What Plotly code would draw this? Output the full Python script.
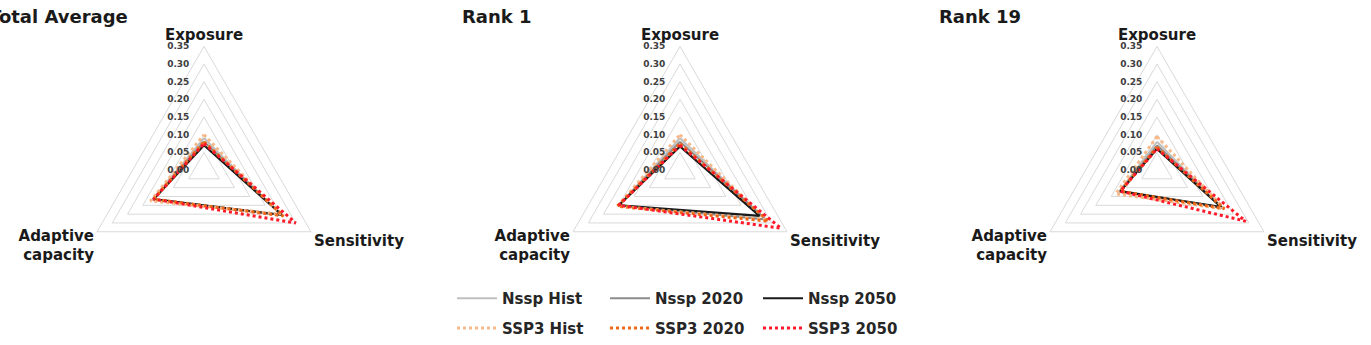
import plotly.graph_objects as go

axes_labels = ["Exposure", "Sensitivity", "Adaptive<br>capacity"]
panel_titles = ["Total Average", "Rank 1", "Rank 19"]
series_names = ["Nssp Hist", "Nssp 2020", "Nssp 2050", "SSP3 Hist", "SSP3 2020", "SSP3 2050"]

# values per panel: [Exposure, Sensitivity, Adaptive capacity]
total_average = {
    "Nssp Hist": [0.090, 0.250, 0.170],
    "Nssp 2020": [0.080, 0.255, 0.165],
    "Nssp 2050": [0.070, 0.255, 0.165],
    "SSP3 Hist": [0.100, 0.250, 0.175],
    "SSP3 2020": [0.080, 0.260, 0.165],
    "SSP3 2050": [0.075, 0.300, 0.165],
}
rank_1 = {
    "Nssp Hist": [0.090, 0.280, 0.200],
    "Nssp 2020": [0.080, 0.280, 0.200],
    "Nssp 2050": [0.067, 0.260, 0.200],
    "SSP3 Hist": [0.100, 0.280, 0.205],
    "SSP3 2020": [0.075, 0.290, 0.205],
    "SSP3 2050": [0.070, 0.330, 0.200],
}
rank_19 = {
    "Nssp Hist": [0.080, 0.210, 0.125],
    "Nssp 2020": [0.070, 0.215, 0.120],
    "Nssp 2050": [0.060, 0.210, 0.120],
    "SSP3 Hist": [0.095, 0.220, 0.135],
    "SSP3 2020": [0.065, 0.220, 0.120],
    "SSP3 2050": [0.060, 0.290, 0.120],
}
panels = [total_average, rank_1, rank_19]

styles = {
    "Nssp Hist": dict(color="#BFBFBF", width=2, dash="solid"),
    "Nssp 2020": dict(color="#8C8C8C", width=2, dash="solid"),
    "Nssp 2050": dict(color="#1A1A1A", width=2.2, dash="solid"),
    "SSP3 Hist": dict(color="#F8B98A", width=3, dash="dot"),
    "SSP3 2020": dict(color="#EE6A1A", width=3, dash="dot"),
    "SSP3 2050": dict(color="#FF1A2A", width=3, dash="dot"),
}

W, H = 1371, 345
centers_x = [204, 680, 1157]
center_y = 172
R = 125
FONT = "DejaVu Sans"

fig = go.Figure()
for pi, data in enumerate(panels):
    pid = "polar" if pi == 0 else f"polar{pi+1}"
    for name in series_names:
        vals = data[name]
        fig.add_trace(go.Scatterpolar(
            r=vals + vals[:1],
            theta=axes_labels + axes_labels[:1],
            mode="lines",
            name=name,
            line=styles[name],
            subplot=pid,
            showlegend=(pi == 0),
            legend="legend" if name.startswith("Nssp") else "legend2",
        ))

layout = dict(
    width=W, height=H,
    margin=dict(l=0, r=0, t=0, b=0),
    paper_bgcolor="white",
    plot_bgcolor="white",
    font=dict(family=FONT, color="#262626"),
)
for pi in range(3):
    key = "polar" if pi == 0 else f"polar{pi+1}"
    cx = centers_x[pi]
    layout[key] = dict(
        domain=dict(x=[(cx - R) / W, (cx + R) / W],
                    y=[1 - (center_y + R) / H, 1 - (center_y - R) / H]),
        gridshape="linear",
        bgcolor="white",
        radialaxis=dict(range=[0, 0.35], dtick=0.05, tickformat=".2f",
                        angle=90, tickangle=90, side="counterclockwise",
                        showline=False, ticks="outside", ticklen=11,
                        tickcolor="rgba(0,0,0,0)",
                        gridcolor="#D9D9D9", gridwidth=1,
                        tickfont=dict(size=9, color="#404040", family=FONT, weight="bold")),
        angularaxis=dict(direction="clockwise", rotation=90, showgrid=False,
                         showline=True, linecolor="#D9D9D9", linewidth=1, ticks="",
                         tickfont=dict(size=15, color="#1A1A1A", family=FONT, weight="bold")),
    )

legend_common = dict(orientation="h", xanchor="left", yanchor="middle",
                     itemwidth=40, entrywidth=98, bgcolor="rgba(0,0,0,0)",
                     font=dict(size=15, color="#262626", family=FONT, weight="bold"),
                     tracegroupgap=0)
layout["legend"] = dict(x=452 / W, y=1 - 302 / H, **legend_common)
layout["legend2"] = dict(x=452 / W, y=1 - 332 / H, **legend_common)

fig.update_layout(**layout)

title_pos = [(130, "right"), (460, "left"), (937, "left")]
for (px, anchor), title in zip(title_pos, panel_titles):
    fig.add_annotation(text=title, x=px / W, y=1 - 17 / H, xref="paper", yref="paper",
                       xanchor=anchor, yanchor="middle", showarrow=False,
                       font=dict(size=18, color="#1A1A1A", family=FONT, weight="bold"))

fig.write_html("out.html")
